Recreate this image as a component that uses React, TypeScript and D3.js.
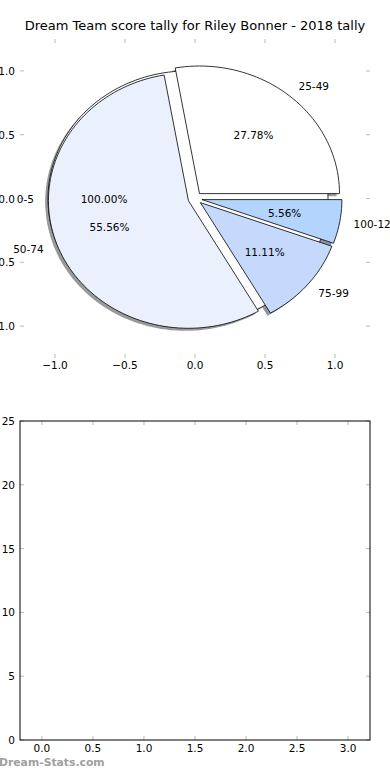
import React from "react";
import * as d3 from "d3";

// chart data
const title = "Dream Team score tally for Riley Bonner - 2018 tally";
const baseLabels = ["0-5"];
const baseCounts = [1];
const labels = ["25-49", "50-74", "75-99", "100-124"];
const counts = [5, 10, 2, 1];
const colors = ["#ffffff", "#eaf1fd", "#c5d9fd", "#b3d4fd"];
const pieTicks = [-1.0, -0.5, 0.0, 0.5, 1.0];
const barXTicks = [0.0, 0.5, 1.0, 1.5, 2.0, 2.5, 3.0];
const barYTicks = [0, 5, 10, 15, 20, 25];

const W = 390;
const H = 780;
const font = "DejaVu Sans, sans-serif";
const tickColor = "#b8b8b8";
const explode = 0.05;

const fmt1 = (v: number) => d3.format(".1f")(v).replace("-", "\u2212");

const App = () => {
  // pie axes
  const px = d3.scaleLinear().domain([-1.25, 1.25]).range([20, 370]);
  const py = d3.scaleLinear().domain([-1.25, 1.25]).range([358, 39]);

  const line = d3
    .line<[number, number]>()
    .x(d => px(d[0]))
    .y(d => py(d[1]));

  const wedge = (cx: number, cy: number, t1: number, t2: number, full = false) => {
    const n = Math.max(4, Math.ceil(((t2 - t1) / (2 * Math.PI)) * 180));
    const pts: [number, number][] = d3
      .range(n + 1)
      .map(i => {
        const t = t1 + ((t2 - t1) * i) / n;
        return [cx + Math.cos(t), cy + Math.sin(t)] as [number, number];
      });
    if (!full) pts.unshift([cx, cy]);
    return line(pts) + "Z";
  };

  const pie = d3.pie<number>().sort(null).startAngle(0).endAngle(2 * Math.PI);
  const base = pie(baseCounts);
  const arcs = pie(counts);
  const total = d3.sum(counts);
  const baseTotal = d3.sum(baseCounts);

  const darken = (c: string) => {
    const r = d3.rgb(c);
    return d3.rgb(r.r * 0.3, r.g * 0.3, r.b * 0.3).toString();
  };

  const baseItems = base.map((a, i) => {
    const mid = (a.startAngle + a.endAngle) / 2;
    const cx = explode * Math.cos(mid);
    const cy = explode * Math.sin(mid);
    return { a, i, mid, cx, cy, full: a.endAngle - a.startAngle >= 2 * Math.PI - 1e-9 };
  });
  const items = arcs.map((a, i) => {
    const mid = (a.startAngle + a.endAngle) / 2;
    const cx = explode * Math.cos(mid);
    const cy = explode * Math.sin(mid);
    return { a, i, mid, cx, cy };
  });

  // bar axes
  const bx = d3.scaleLinear().domain([-0.215, 3.215]).range([20, 370]);
  const by = d3.scaleLinear().domain([0, 25]).range([740, 421]);

  const textLabel = (cx: number, cy: number, mid: number, txt: string, key: string) => {
    const lx = cx + 1.1 * Math.cos(mid);
    const ly = cy + 1.1 * Math.sin(mid);
    return (
      <text key={key} x={px(lx)} y={py(ly)} fontSize={10.5} fontFamily={font}
        textAnchor={lx > 0 ? "start" : "end"} dominantBaseline="central" fill="#000">
        {txt}
      </text>
    );
  };
  const pctLabel = (cx: number, cy: number, mid: number, txt: string, key: string) => (
    <text key={key} x={px(cx + 0.6 * Math.cos(mid))} y={py(cy + 0.6 * Math.sin(mid))}
      fontSize={10.5} fontFamily={font} textAnchor="middle" dominantBaseline="central" fill="#000">
      {txt}
    </text>
  );

  return (
    <svg width={W} height={H} style={{ position: "absolute", left: 0, top: 0, background: "#fff" }}>
      <rect width={W} height={H} fill="#fff" />
      <text x={195} y={30} textAnchor="middle" fontSize={13} fontFamily={font} fill="#000">
        {title}
      </text>

      {/* pie ticks */}
      {pieTicks.map(t => (
        <g key={"px" + t}>
          <line x1={px(t)} x2={px(t)} y1={39} y2={43} stroke={tickColor} />
          <line x1={px(t)} x2={px(t)} y1={358} y2={354} stroke={tickColor} />
          <text x={px(t)} y={365} textAnchor="middle" dominantBaseline="central" fontSize={10.5} fontFamily={font}>
            {fmt1(t)}
          </text>
        </g>
      ))}
      {pieTicks.map(t => (
        <g key={"py" + t}>
          <line x1={20} x2={24} y1={py(t)} y2={py(t)} stroke={tickColor} />
          <line x1={370} x2={366} y1={py(t)} y2={py(t)} stroke={tickColor} />
          <text x={15} y={py(t)} textAnchor="end" dominantBaseline="central" fontSize={10.5} fontFamily={font}>
            {fmt1(t)}
          </text>
        </g>
      ))}

      {/* shadows */}
      <g opacity={0.55}>
        {baseItems.map(d => (
          <path key={"bs" + d.i} d={wedge(d.cx - 0.02, d.cy - 0.02, d.a.startAngle, d.a.endAngle, d.full)} fill={darken("#ffffff")} />
        ))}
        {items.map(d => (
          <path key={"s" + d.i} d={wedge(d.cx - 0.02, d.cy - 0.02, d.a.startAngle, d.a.endAngle)} fill={darken(colors[d.i])} />
        ))}
      </g>
      {/* base full pie */}
      {baseItems.map(d => (
        <path key={"b" + d.i} d={wedge(d.cx, d.cy, d.a.startAngle, d.a.endAngle, d.full)} fill="#fff" stroke="#000" strokeWidth={0.8} />
      ))}
      {items.map(d => (
        <path key={"w" + d.i} d={wedge(d.cx, d.cy, d.a.startAngle, d.a.endAngle)} fill={colors[d.i]} stroke="#000" strokeWidth={0.8} strokeLinejoin="round" />
      ))}
      {baseItems.map(d => textLabel(d.cx, d.cy, d.mid, baseLabels[d.i], "bl" + d.i))}
      {baseItems.map(d => pctLabel(d.cx, d.cy, d.mid, d3.format(".2f")((100 * baseCounts[d.i]) / baseTotal) + "%", "bp" + d.i))}
      {items.map(d => textLabel(d.cx, d.cy, d.mid, labels[d.i], "l" + d.i))}
      {items.map(d => pctLabel(d.cx, d.cy, d.mid, d3.format(".2f")((100 * counts[d.i]) / total) + "%", "p" + d.i))}

      {/* bar axes */}
      {barXTicks.map(t => (
        <g key={"bx" + t}>
          <line x1={bx(t)} x2={bx(t)} y1={421} y2={425} stroke={tickColor} />
          <line x1={bx(t)} x2={bx(t)} y1={740} y2={736} stroke={tickColor} />
          <text x={bx(t)} y={748} textAnchor="middle" dominantBaseline="central" fontSize={10.5} fontFamily={font}>
            {fmt1(t)}
          </text>
        </g>
      ))}
      {barYTicks.map(t => (
        <g key={"by" + t}>
          <line x1={20} x2={24} y1={by(t)} y2={by(t)} stroke={tickColor} />
          <line x1={370} x2={366} y1={by(t)} y2={by(t)} stroke={tickColor} />
          <text x={15} y={by(t)} textAnchor="end" dominantBaseline="central" fontSize={10.5} fontFamily={font}>
            {t}
          </text>
        </g>
      ))}
      <rect x={20} y={421} width={350} height={319} fill="none" stroke="#000" strokeWidth={1} />

      <text x={-1} y={766} fontSize={10.8} fontWeight="bold" fontFamily={font} fill="#a0a0a0">
        Dream-Stats.com
      </text>
    </svg>
  );
};

export default App;
